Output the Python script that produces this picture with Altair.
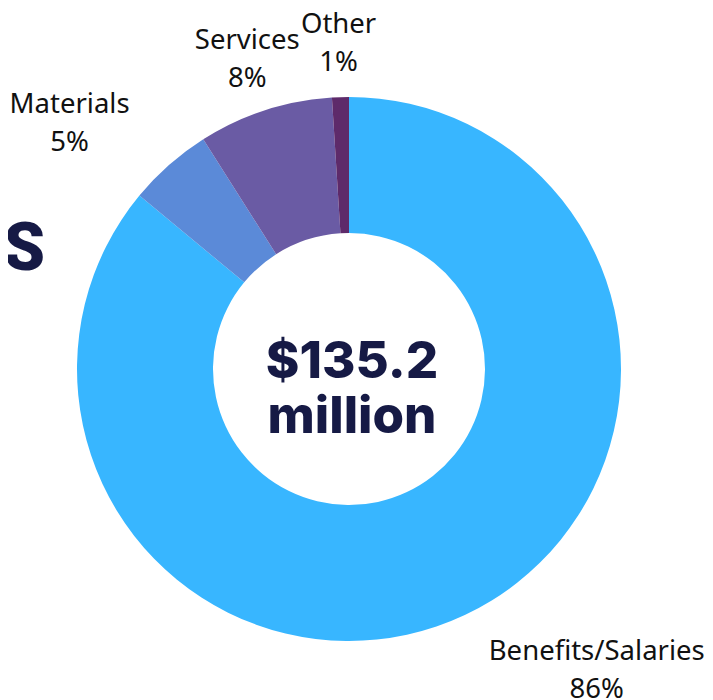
import altair as alt
import pandas as pd

categories = ["Benefits/Salaries", "Materials", "Services", "Other"]
shares = [86, 5, 8, 1]
colors = ["#38B6FF", "#5B8AD8", "#6A5BA4", "#5E2A6A"]
center_text = ["$135.2", "million"]
side_title = "ES"

# per-label nudges (styling, px) away from slice midpoints
label_dx = [120, -81, -9, -1]
label_dy = [12, -39, -43, -44]

df = pd.DataFrame({
    "category": categories,
    "share": shares,
    "order": list(range(len(categories))),
    "label": [f"{c}\n{s}%" for c, s in zip(categories, shares)],
})

CX, CY = 341, 361
theta_scale = alt.Scale(domain=[0, 100])

arcs = alt.Chart(df).mark_arc(outerRadius=272, innerRadius=136).encode(
    theta=alt.Theta("share:Q", stack=True, scale=theta_scale),
    order=alt.Order("order:Q"),
    x=alt.value(CX),
    y=alt.value(CY),
    color=alt.Color("category:N", scale=alt.Scale(domain=categories, range=colors), legend=None),
)

label_base = alt.Chart(df).transform_window(
    cum="sum(share)", sort=[alt.SortField("order")]
).transform_calculate(
    mid="datum.cum - datum.share / 2"
)

label_layers = []
for cat, ddx, ddy in zip(categories, label_dx, label_dy):
    label_layers.append(
        label_base.transform_filter(alt.datum.category == cat).mark_text(
            radius=300, dx=ddx, dy=ddy, lineBreak="\n", lineHeight=38,
            font="Noto Sans", fontSize=27.5, color="#111111",
            align="center", baseline="middle",
        ).encode(
            theta=alt.Theta("mid:Q", stack=None, scale=theta_scale),
            x=alt.value(CX),
            y=alt.value(CY),
            text="label:N",
        )
    )

center_df = pd.DataFrame({"t": ["\n".join(center_text)]})
center = alt.Chart(center_df).mark_text(
    lineBreak="\n", lineHeight=55, font="Inter", fontWeight=800, fontSize=51,
    color="#161A45", align="center", baseline="middle", dy=-6, dx=3,
).encode(text="t:N", x=alt.value(CX), y=alt.value(CY))

side_df = pd.DataFrame({"t": [side_title]})
side = alt.Chart(side_df).mark_text(
    font="Roboto", fontWeight=900, fontSize=66, color="#161A45",
    align="right", baseline="alphabetic",
).encode(text="t:N", x=alt.value(37), y=alt.value(262))

chart = alt.layer(arcs, *label_layers, center, side).properties(
    width=697, height=692, autosize=alt.AutoSizeParams(type="none"), padding=0
).configure_view(stroke=None)

chart.save("out.html", embed_options={"renderer": "svg", "actions": False})
